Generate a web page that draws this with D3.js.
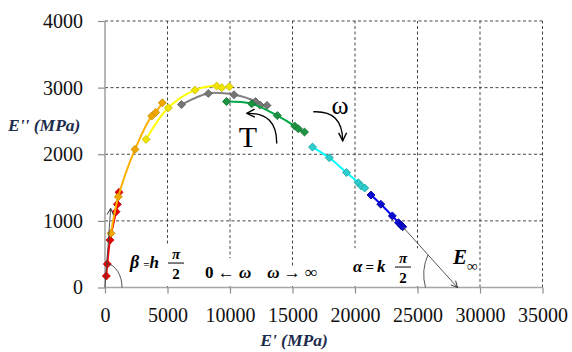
<!DOCTYPE html>
<html>
<head>
<meta charset="utf-8">
<script src="https://cdn.jsdelivr.net/npm/d3@7"></script>
<style>
  body { margin: 0; background: #fff; }
  svg { display: block; }
  svg text { font-family: "Liberation Serif", "Times New Roman", serif !important; }
</style>
</head>
<body>
<svg id="chart" width="572" height="352"></svg>
<script>
// storage modulus E' vs loss modulus E'' (MPa), one series per temperature
const seriesNames = ['red', 'orange', 'yellow', 'gray', 'green', 'cyan', 'blue']
const redE1 = [104, 184, 400, 880, 984, 1120]
const redE2 = [172, 352, 712, 1137, 1248, 1428]
const orangeE1 = [480, 1064, 2400, 3736, 4056, 4584]
const orangeE2 = [813, 1362, 2073, 2573, 2628, 2772]
const yellowE1 = [3280, 5064, 7200, 8936, 9336, 9944]
const yellowE2 = [2223, 2697, 2963, 3023, 3000, 3015]
const grayE1 = [6120, 8264, 10320, 12040, 12400, 12960]
const grayE2 = [2745, 2913, 2892, 2790, 2738, 2733]
const greenE1 = [9720, 11736, 13784, 15176, 15464, 15960]
const greenE2 = [2790, 2757, 2580, 2423, 2382, 2333]
const cyanE1 = [16600, 17944, 19320, 20264, 20504, 20776]
const cyanE2 = [2108, 1947, 1725, 1572, 1523, 1493]
const blueE1 = [21280, 22064, 22984, 23480, 23680, 23816]
const blueE2 = [1388, 1250, 1075, 972, 933, 912]

const xTicks = [0, 5000, 10000, 15000, 20000, 25000, 30000, 35000]
const yTicks = [0, 1000, 2000, 3000, 4000]
const eInf = 28200          // E' where the high-frequency tangent meets the axis
const originTip = [456, 1188] // tip of the low-frequency arrow

const lineColors = {red: '#ff0000', orange: '#ffb000', yellow: '#ffff00', gray: '#808080',
  green: '#00a847', cyan: '#00ffff', blue: '#0000ff'}
const markColors = {red: '#e60000', orange: '#f0a800', yellow: '#f2e600', gray: '#777777',
  green: '#1a9440', cyan: '#2ecccc', blue: '#0a0ad0'}
const markEdge = {red: '#c00000', orange: '#c88a00', yellow: '#c9bd00', gray: '#5a5a5a',
  green: '#127030', cyan: '#1aa6a6', blue: '#000099'}

const raw = {
  red: [redE1, redE2], orange: [orangeE1, orangeE2], yellow: [yellowE1, yellowE2],
  gray: [grayE1, grayE2], green: [greenE1, greenE2], cyan: [cyanE1, cyanE2], blue: [blueE1, blueE2]
}
const series = seriesNames.map(n => ({
  name: n,
  points: raw[n][0].map((v, i) => ({e1: v, e2: raw[n][1][i]}))
}))

const svg = d3.select('#chart')
const x = d3.scaleLinear().domain([0, 35000]).range([105, 542.5])
const y = d3.scaleLinear().domain([0, 4000]).range([287.5, 21])

// arrow heads
const defs = svg.append('defs')
defs.append('marker').attr('id', 'head').attr('viewBox', '0 0 10 10')
  .attr('refX', 9).attr('refY', 5).attr('markerWidth', 8).attr('markerHeight', 8)
  .attr('markerUnits', 'userSpaceOnUse').attr('orient', 'auto')
  .append('path').attr('d', 'M1,1 L9,5 L1,9').attr('fill', 'none')
  .attr('stroke', '#333').attr('stroke-width', 1.2)
defs.append('marker').attr('id', 'headBig').attr('viewBox', '0 0 10 10')
  .attr('refX', 9).attr('refY', 5).attr('markerWidth', 10).attr('markerHeight', 10)
  .attr('markerUnits', 'userSpaceOnUse').attr('orient', 'auto')
  .append('path').attr('d', 'M1,1 L9,5 L1,9').attr('fill', 'none')
  .attr('stroke', '#000').attr('stroke-width', 1.4)

// dashed grid incl. top and right border
const grid = svg.append('g').attr('stroke', '#333').attr('stroke-width', 0.9)
  .attr('stroke-dasharray', '3,2.5')
grid.selectAll('.gx').data(xTicks.slice(1)).join('line')
  .attr('x1', d => x(d)).attr('x2', d => x(d)).attr('y1', y(0)).attr('y2', y(4000))
grid.selectAll('.gy').data(yTicks.slice(1)).join('line')
  .attr('x1', x(0)).attr('x2', x(35000)).attr('y1', d => y(d)).attr('y2', d => y(d))

// white boxes behind the annotations
const boxes = [
  [1600, 6800, 22, 622],
  [7600, 12300, 22, 440],
  [12300, 18000, 22, 300],
  [19440, 26200, 22, 590]
]
svg.append('g').selectAll('rect').data(boxes).join('rect')
  .attr('x', d => x(d[0])).attr('width', d => x(d[1]) - x(d[0]))
  .attr('y', d => y(d[3])).attr('height', d => y(d[2]) - y(d[3]))
  .attr('fill', '#fff')

// axes
const xAxis = svg.append('g').attr('transform', `translate(0,${y(0)})`)
  .call(d3.axisBottom(x).tickValues(xTicks).tickSize(6).tickPadding(14).tickFormat(d3.format('d')))
const yAxis = svg.append('g').attr('transform', `translate(${x(0)},0)`)
  .call(d3.axisLeft(y).tickValues(yTicks).tickSize(7).tickPadding(15).tickFormat(d3.format('d')))
for (const a of [xAxis, yAxis]) {
  a.attr('font-family', null).attr('font-size', null)
  a.select('.domain').attr('stroke', '#a6a6a6').attr('stroke-width', 1.6)
  a.selectAll('.tick line').attr('stroke', '#8c8c8c').attr('stroke-width', 1.2)
  a.selectAll('.tick text').style('font-size', '20px').attr('fill', '#111')
}
xAxis.select('.domain').attr('d', `M${x(0)},0H${x(35000)}`)
yAxis.select('.domain').attr('d', `M0,${y(0)}V${y(4000)}`)

// axis titles
svg.append('text').attr('x', 8).attr('y', 131)
  .style('font-size', '17.5px').attr('font-weight', 'bold').attr('font-style', 'italic')
  .attr('fill', '#1c2c4c').text("E'' (MPa)")
svg.append('text').attr('x', 294).attr('y', 346).attr('text-anchor', 'middle')
  .style('font-size', '17.5px').attr('font-weight', 'bold').attr('font-style', 'italic')
  .attr('fill', '#1c2c4c').text("E' (MPa)")

// series lines and diamond markers
const line = d3.line().x(d => x(d.e1)).y(d => y(d.e2)).curve(d3.curveCatmullRom)
const diamond = d3.symbol().type(d3.symbolSquare).size(32)
const sg = svg.append('g').selectAll('g').data(series).join('g')
sg.append('path').attr('d', d => line(d.points)).attr('fill', 'none')
  .attr('stroke', d => lineColors[d.name]).attr('stroke-width', 2)
sg.each(function(s) {
  d3.select(this).selectAll('path.m').data(s.points).join('path').attr('class', 'm')
    .attr('d', diamond)
    .attr('transform', d => `translate(${x(d.e1)},${y(d.e2)}) rotate(45)`)
    .attr('fill', markColors[s.name]).attr('stroke', markEdge[s.name]).attr('stroke-width', 0.8)
})

// tangent arrows at both ends
const lastBlue = {e1: blueE1[blueE1.length - 1], e2: blueE2[blueE2.length - 1]}
svg.append('line').attr('x1', x(lastBlue.e1)).attr('y1', y(lastBlue.e2))
  .attr('x2', x(eInf)).attr('y2', y(0)).attr('stroke', '#444').attr('stroke-width', 0.9)
  .attr('marker-end', 'url(#head)')
svg.append('line').attr('x1', x(0)).attr('y1', y(0))
  .attr('x2', x(originTip[0])).attr('y2', y(originTip[1])).attr('stroke', '#444')
  .attr('stroke-width', 0.9).attr('marker-end', 'url(#head)')

// angle arcs
svg.append('path').attr('fill', 'none').attr('stroke', '#444').attr('stroke-width', 0.9)
  .attr('d', `M${x(0) + 17},${y(0)} A17 24 0 0 0 ${x(0) + 2},${y(0) - 24}`)
const ang = Math.atan2(y(lastBlue.e2) - y(0), x(lastBlue.e1) - x(eInf))
svg.append('path').attr('fill', 'none').attr('stroke', '#444').attr('stroke-width', 0.9)
  .attr('d', `M${x(eInf) - 32},${y(0)} A32 40 0 0 1 ${x(eInf) + 44 * Math.cos(ang)},${y(0) + 44 * Math.sin(ang)}`)

// curved T and omega arrows
svg.append('path').attr('fill', 'none').attr('stroke', '#000').attr('stroke-width', 1.4)
  .attr('marker-end', 'url(#headBig)')
  .attr('d', `M${x(13736)},${y(2163)} Q${x(13760)},${y(2630)} ${x(11336)},${y(2613)}`)
svg.append('path').attr('fill', 'none').attr('stroke', '#000').attr('stroke-width', 1.4)
  .attr('marker-end', 'url(#headBig)')
  .attr('d', `M${x(16664)},${y(2637)} Q${x(19000)},${y(2660)} ${x(19016)},${y(2202)}`)
svg.append('text').attr('x', x(11440)).attr('y', y(2107)).attr('text-anchor', 'middle')
  .style('font-size', '30px').text('T')
svg.append('text').attr('x', x(18800)).attr('y', y(2602)).attr('text-anchor', 'middle')
  .style('font-size', '26px').text('ω')

// fraction helper (pi over 2)
function frac(cx, base) {
  const g = svg.append('g').attr('font-weight', 'bold')
  g.append('text').attr('x', cx).attr('y', base - 9).attr('text-anchor', 'middle')
    .style('font-size', '15px').attr('font-style', 'italic').text('π')
  g.append('line').attr('x1', cx - 8).attr('x2', cx + 8).attr('y1', base - 5).attr('y2', base - 5)
    .attr('stroke', '#000').attr('stroke-width', 1)
  g.append('text').attr('x', cx).attr('y', base + 11).attr('text-anchor', 'middle')
    .style('font-size', '15px').text('2')
}

// beta = h pi/2
const bt = svg.append('text').attr('x', x(2000)).attr('y', y(292)).attr('font-weight', 'bold')
bt.append('tspan').attr('font-style', 'italic').style('font-size', '18px').text('β')
bt.append('tspan').style('font-size', '11px').attr('dx', 4).text('=')
bt.append('tspan').attr('font-style', 'italic').style('font-size', '17px').text('h')
frac(x(5680), y(292))

// alpha = k pi/2
const at = svg.append('text').attr('x', x(19840)).attr('y', y(232)).attr('font-weight', 'bold')
at.append('tspan').attr('font-style', 'italic').style('font-size', '17px').text('α')
at.append('tspan').style('font-size', '15px').attr('dx', 3).text('=')
at.append('tspan').attr('font-style', 'italic').style('font-size', '17px').attr('dx', 3).text('k')
frac(x(23840), y(232))

// frequency limits
const wt = svg.append('text').attr('x', x(8000)).attr('y', y(142)).attr('font-weight', 'bold')
  .style('font-size', '17px')
wt.append('tspan').text('0 ← ')
wt.append('tspan').attr('font-style', 'italic').text('ω')
wt.append('tspan').attr('dx', 16).attr('font-style', 'italic').text('ω')
wt.append('tspan').text(' → ∞')

// E infinity
const ei = svg.append('text').attr('x', x(27840)).attr('y', y(352)).attr('font-weight', 'bold')
ei.append('tspan').attr('font-style', 'italic').style('font-size', '21px').text('E')
ei.append('tspan').style('font-size', '15px').attr('dy', 7).text('∞')
</script>
</body>
</html>
